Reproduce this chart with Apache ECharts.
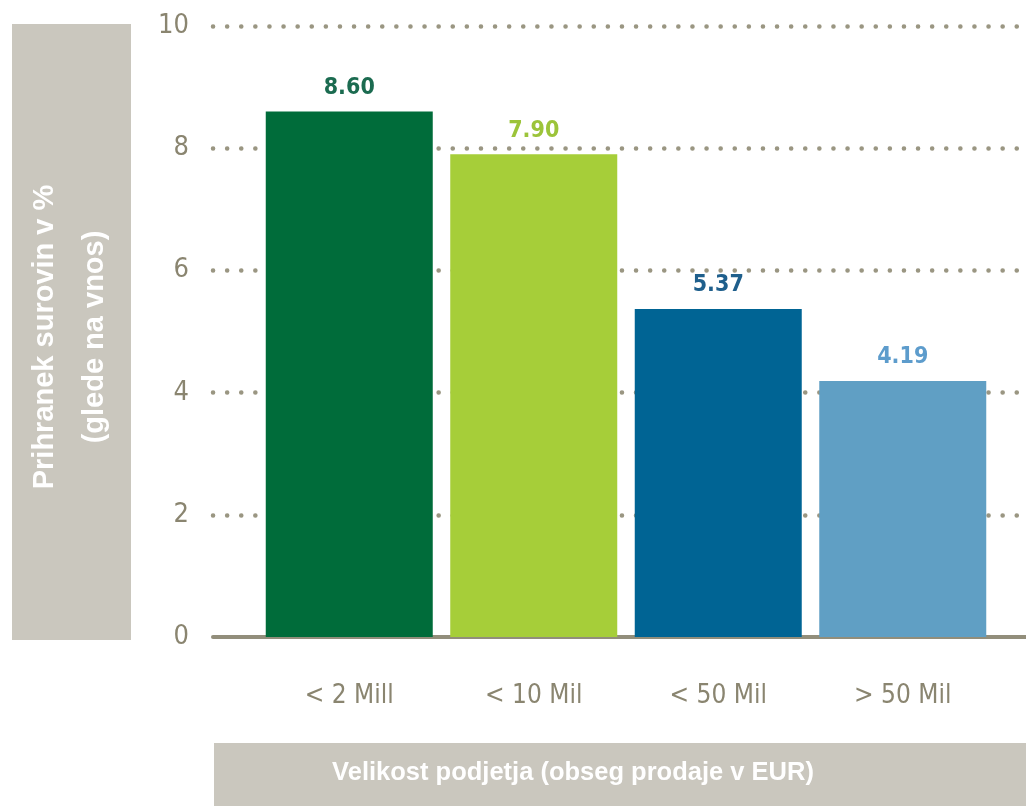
<!DOCTYPE html>
<html>
<head>
<meta charset="utf-8">
<script src="https://cdn.jsdelivr.net/npm/echarts@6/dist/echarts.min.js"></script>
<style>
  html, body { margin: 0; padding: 0; background: #fff; }
  #chart { width: 1026px; height: 806px; }
</style>
</head>
<body>
<div id="chart"></div>
<script>
const categories = ['< 2 Mill', '< 10 Mil', '< 50 Mil', '> 50 Mil'];
const values = [8.60, 7.90, 5.37, 4.19];
const barColors = ['#006c3a', '#a6ce39', '#006494', '#609fc4'];
const labelColors = ['#1b6b50', '#9cc43a', '#1f5f8c', '#5d9ccc'];
const yTitle = ['Prihranek surovin v %', '(glede na vnos)'];
const xTitle = 'Velikost podjetja (obseg prodaje v EUR)';

const narrow = '"Liberation Sans Narrow", "DejaVu Sans Condensed", sans-serif';
const gray = '#8a8570';

const chart = echarts.init(document.getElementById('chart'), null, { renderer: 'canvas' });

chart.setOption({
  animation: false,
  grid: [
    // wide grid: dotted gridlines + base line
    { left: 213, right: 0, top: 26, bottom: 169 },
    // bars sit in a narrower band
    { left: 257, right: 31, top: 26, bottom: 169 }
  ],
  xAxis: [
    {
      gridIndex: 0, type: 'value', min: 0, max: 1,
      axisLine: { show: true, lineStyle: { color: '#928e7b', width: 4 } },
      axisTick: { show: false }, axisLabel: { show: false }, splitLine: { show: false }
    },
    {
      gridIndex: 1, type: 'category', data: categories,
      axisLine: { show: false }, axisTick: { show: false },
      axisLabel: { color: gray, fontFamily: narrow, fontSize: 26, margin: 46 }
    }
  ],
  yAxis: [
    {
      gridIndex: 0, type: 'value', min: 0, max: 10, interval: 2,
      axisLine: { show: false }, axisTick: { show: false },
      axisLabel: { color: gray, fontFamily: narrow, fontSize: 27, margin: 24 },
      splitLine: {
        show: true,
        showMinLine: false,
        lineStyle: { color: '#9a9682', width: 4.5, type: [0.1, 14], cap: 'round' }
      }
    },
    {
      gridIndex: 1, type: 'value', min: 0, max: 10, interval: 2,
      axisLine: { show: false }, axisTick: { show: false },
      axisLabel: { show: false }, splitLine: { show: false }
    }
  ],
  series: [
    {
      type: 'bar',
      xAxisIndex: 1,
      yAxisIndex: 1,
      barWidth: 167,
      data: values.map((v, i) => ({
        value: v,
        itemStyle: { color: barColors[i] },
        label: { color: labelColors[i] }
      })),
      label: {
        show: true,
        position: 'top',
        distance: 12,
        fontFamily: narrow,
        fontSize: 23,
        fontWeight: 600,
        formatter: p => p.value.toFixed(2)
      }
    }
  ],
  graphic: [
    {
      type: 'rect', left: 12, top: 24,
      shape: { width: 119, height: 616 },
      style: { fill: '#cac7be' }
    },
    {
      type: 'text', x: 70, y: 337, rotation: Math.PI / 2,
      style: {
        text: yTitle.join('\n'),
        fill: '#fff',
        font: 'bold 29px "Liberation Sans", Arial, sans-serif',
        align: 'center', verticalAlign: 'middle', lineHeight: 50
      }
    },
    {
      type: 'rect', left: 214, top: 743,
      shape: { width: 812, height: 63 },
      style: { fill: '#cac7be' }
    },
    {
      type: 'text', x: 573, y: 773,
      style: {
        text: xTitle,
        fill: '#fff',
        font: 'bold 25.5px "Liberation Sans", Arial, sans-serif',
        align: 'center', verticalAlign: 'middle'
      }
    }
  ]
});
</script>
</body>
</html>
